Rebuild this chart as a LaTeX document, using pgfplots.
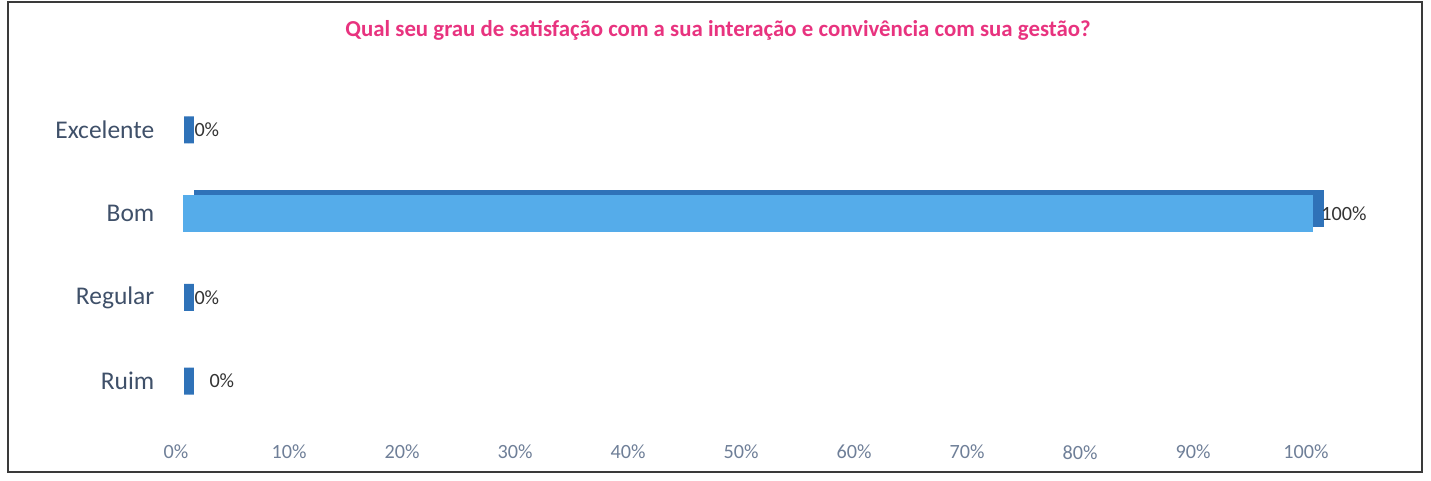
\documentclass[border=0pt]{standalone}
\usepackage{pgfplots}
\pgfplotsset{compat=1.18}
\usepackage{fontspec}
\setmainfont{Carlito}
\definecolor{titlepink}{HTML}{E8337F}
\definecolor{catblue}{HTML}{3F5069}
\definecolor{tickgray}{HTML}{6F7F98}
\definecolor{barlight}{HTML}{55ACEA}
\definecolor{bardark}{HTML}{2F72B8}
\definecolor{framegray}{HTML}{3A3A3A}
\begin{document}
\begin{tikzpicture}[x=1mm,y=1mm]
\path (0,0) rectangle (286.2,96.2);
\draw[line width=0.45mm, draw=framegray] (1.6,1.8) rectangle (284.4,95.8);
\node[font=\fontsize{13}{15}\selectfont\bfseries, text=titlepink] at (143.6,90.2)
  {Qual seu grau de satisfação com a sua interação e convivência com sua gestão?};
\begin{axis}[
  at={(36.6mm,11.6mm)}, anchor=south west, scale only axis,
  width=226mm, height=67mm,
  xmin=0, xmax=100, ymin=-0.5, ymax=3.5,
  ytick={0,1,2,3}, yticklabels={Ruim,Regular,Bom,Excelente},
  xtick={0,10,...,100},
  xticklabel={\pgfmathprintnumber{\tick}\%},
  /pgf/number format/assume math mode=true,
  axis line style={draw=none}, major tick length=0pt,
  yticklabel style={font=\fontsize{14.5}{16}\selectfont, text=catblue, xshift=-4.5mm},
  xticklabel style={font=\fontsize{11.5}{13}\selectfont, text=tickgray, yshift=-3.2mm, xshift=-1.4mm},
  clip=false,
  every node near coord/.append style={font=\fontsize{11.5}{13}\selectfont, text=black!80, anchor=west},
]
% depth of the long bar
\addplot[xbar, bar shift=0pt, bar width=7.4mm, fill=bardark, draw=none,
  xshift=2.2mm, yshift=1.1mm] coordinates {(100,2)};
% front of the long bar
\addplot[xbar, bar shift=0pt, bar width=7.4mm, fill=barlight, draw=none,
  nodes near coords={\pgfmathprintnumber{\pgfplotspointmeta}\%},
  every node near coord/.append style={xshift=1.6mm, inner sep=0pt}] coordinates {(100,2)};
% zero bars
\addplot[xbar, bar shift=0pt, bar width=5.4mm, fill=bardark, draw=bardark, line width=2mm,
  xshift=1.1mm,
  nodes near coords={\pgfmathprintnumber{\pgfplotspointmeta}\%},
  every node near coord/.append style={xshift=0.2mm, inner sep=0pt}] coordinates {(0,3) (0,1)};
\addplot[xbar, bar shift=0pt, bar width=5.4mm, fill=bardark, draw=bardark, line width=2mm,
  xshift=1.1mm,
  nodes near coords={\pgfmathprintnumber{\pgfplotspointmeta}\%},
  every node near coord/.append style={xshift=3.2mm, inner sep=0pt}] coordinates {(0,0)};
\end{axis}
\end{tikzpicture}
\end{document}
